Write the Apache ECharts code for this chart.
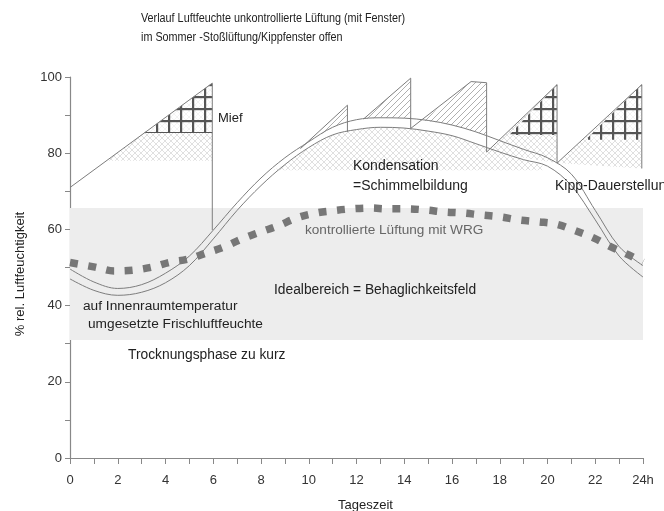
<!DOCTYPE html>
<html><head><meta charset="utf-8">
<script src="https://cdn.jsdelivr.net/npm/echarts@6/dist/echarts.min.js"></script>
<style>html,body{margin:0;padding:0;background:#fff}#c{width:664px;height:511px}</style>
</head><body><div id="c"></div>
<script>
// ---- data ----
const hours = [0,1,2,3,4,5,6,7,8,9,10,11,12,13,14,15,16,17,18,19,20,21,22,23,24];
const upperCurve = [49.6,46.2,44.5,45.5,48.5,53,59.8,67,73.5,78.8,83,86.8,88.8,89.3,89.2,88.6,87.4,85.6,83.3,81,78.8,74.5,65,55.5,50.5];
const lowerCurve = [47,44,42.7,43.5,46,50.5,57.5,65,71.5,77,81.5,84.8,86.2,86.8,86.6,85.8,84.6,82.5,80.3,78.3,76.6,71.5,62.5,53,47.5];
const wrgHours  = [0,1.05,1.85,2.64,3.44,4.2,4.95,5.7,6.42,7.2,7.97,8.7,9.5,10.3,11.0,11.8,12.6,13.3,14.1,14.9,15.65,16.45,17.2,18.0,18.8,19.6,20.35,21.1,21.95,22.66,23.4,24];
const wrgValues = [51.3,50.1,49.1,49.3,50.1,51.4,52.2,53.8,55.3,57.5,59.3,60.9,63,64.3,64.9,65.4,65.6,65.4,65.4,65.1,64.6,64.3,63.8,63.3,62.5,62,61.4,59.8,57.7,55.4,53.3,51.4];
// window-ventilation sawtooth (unkontrollierte Lüftung)
const sawSeg1 = [[0,71],[5.96,98.4],[5.96,59.8]];
const sawSeg2 = [[9.65,81.2],[11.62,92.6],[11.62,85.6]];
const sawSeg3 = [[12.3,89.0],[14.27,99.7],[14.27,86.5],[16.8,98.8],[17.45,98.5],[17.45,80.3],[20.4,98],[20.4,77.4],[23.95,98],[23.95,76]];
// hatched zones
const miefLight  = [[1.52,78],[5.96,98.4],[5.96,78]];
const miefGrid   = [[3.1,85.3],[5.96,98.4],[5.96,85.3]];
const hatch2     = [[9.65,81.2],[11.62,92.6],[11.62,88.6],[11,86.8],[10,83]];
const hatch3     = [[12.3,89.0],[14.27,99.7],[14.27,89.2],[13,89.3]];
const hatch4     = [[14.8,88.6],[16.8,98.8],[17.45,98.5],[17.45,84.8],[16.5,86.6],[15.5,88]];
const kipp1Light = [[17.45,80.3],[20.4,98],[20.4,77.4]];
const kipp1Grid  = [[18.4,84.8],[20.4,98],[20.4,84.8]];
const kipp2Light = [[20.4,77.4],[23.95,98],[23.95,76]];
const kipp2Grid  = [[21.6,83.5],[23.95,98],[23.95,83.5]];
const condensZone = [[8.5,75.5],[9,77],[10,81.5],[11,84.8],[12,86.2],[13,86.8],[14,86.6],[15,85.8],[16,84.6],[17,82.5],[18,80.3],[19,78.3],[19.8,76.8],[19.8,75.5]];
const idealBand = [[0,31],[24,31],[24,65.6],[0,65.6]];
const xTickLabelLast = '24h';

// ---- patterns ----
function pat(w, h, draw) {
  const c = document.createElement('canvas'); c.width = w; c.height = h;
  const g = c.getContext('2d'); draw(g, w, h);
  return { image: c, repeat: 'repeat' };
}
const diagPat = pat(6, 6, (g, w, h) => {
  g.strokeStyle = '#9a9a9a'; g.lineWidth = 0.8;
  g.beginPath(); g.moveTo(0, h); g.lineTo(w, 0); g.moveTo(-1, 1); g.lineTo(1, -1); g.moveTo(w-1, h+1); g.lineTo(w+1, h-1); g.stroke();
});
const crossPat = pat(6, 6, (g, w, h) => {
  g.strokeStyle = '#d2d2d2'; g.lineWidth = 0.7;
  g.beginPath(); g.moveTo(0, h); g.lineTo(w, 0); g.moveTo(0, 0); g.lineTo(w, h); g.stroke();
});
const gridPat = pat(12, 12, (g, w, h) => {
  g.fillStyle = 'rgba(255,255,255,0.6)'; g.fillRect(0, 0, w, h);
  g.fillStyle = '#555'; g.fillRect(0, 0, 2.2, h); g.fillRect(0, 0, w, 2.2);
});

function poly(points, fill, z, stroke) {
  return {
    type: 'custom', coordinateSystem: 'cartesian2d', silent: true, z: z, clip: false,
    data: [points[0]],
    renderItem: (params, api) => ({
      type: 'polygon',
      shape: { points: points.map(p => api.coord(p)) },
      style: { fill: fill, stroke: stroke || null, lineWidth: stroke ? 2 : 0 }
    })
  };
}
function line(data, smooth, z, style) {
  return { type: 'line', data: data, smooth: smooth, showSymbol: false, symbol: 'none', silent: true, z: z,
    lineStyle: Object.assign({ color: '#7d7d7d', width: 1 }, style || {}) };
}

const F = '"Liberation Sans",Arial,sans-serif';
function txt(x, y, text, size, color, extra) {
  return Object.assign({ type: 'text', x: x, y: y, z: 50,
    style: { text: text, font: (size || 12) + 'px ' + F, fill: color || '#222', verticalAlign: 'middle' } }, extra || {});
}

const chart = echarts.init(document.getElementById('c'), null, { renderer: 'canvas' });
chart.setOption({
  animation: false,
  backgroundColor: '#fff',
  grid: { left: 70, right: 21, top: 77, bottom: 53 },
  xAxis: {
    type: 'value', min: 0, max: 24, interval: 2,
    axisLine: { lineStyle: { color: '#888', width: 1.2 } },
    axisTick: { show: true, length: 6, lineStyle: { color: '#888' } },
    minorTick: { show: true, splitNumber: 2, length: 6, lineStyle: { color: '#888' } },
    splitLine: { show: false },
    axisLabel: { margin: 16, fontSize: 13, color: '#333', fontFamily: F,
      formatter: v => v === 24 ? xTickLabelLast : String(v) }
  },
  yAxis: {
    type: 'value', min: 0, max: 100, interval: 20,
    axisLine: { show: true, lineStyle: { color: '#888', width: 1.2 } },
    axisTick: { show: true, length: 5, lineStyle: { color: '#888' } },
    minorTick: { show: true, splitNumber: 2, length: 5, lineStyle: { color: '#888' } },
    splitLine: { show: false },
    axisLabel: { margin: 8, fontSize: 13, color: '#333', fontFamily: F }
  },
  series: [
    poly(idealBand, '#ededed', 1),
    poly(condensZone, crossPat, 2),
    poly(miefLight, crossPat, 2),
    poly(kipp1Light, crossPat, 2),
    poly(kipp2Light, crossPat, 2),
    poly(hatch2, diagPat, 2),
    poly(hatch3, diagPat, 2),
    poly(hatch4, diagPat, 2),
    poly(miefGrid, gridPat, 3),
    poly(kipp1Grid, gridPat, 3),
    poly(kipp2Grid, gridPat, 3),
    line(hours.map((h, i) => [h, upperCurve[i]]), 0.35, 4),
    line(hours.map((h, i) => [h, lowerCurve[i]]), 0.35, 4),
    line(sawSeg1, false, 4),
    line(sawSeg2, false, 4),
    line(sawSeg3, false, 4),
    line(wrgHours.map((h, i) => [h, wrgValues[i]]), 0.4, 5, { color: '#777', width: 7.5, type: [8, 10.5], cap: 'butt' })
  ],
  graphic: [
    txt(141, 19, 'Verlauf Luftfeuchte unkontrollierte Lüftung (mit Fenster)', 12, '#222', { scaleX: 0.9 }),
    txt(141, 38, 'im Sommer -Stoßlüftung/Kippfenster offen', 12, '#222', { scaleX: 0.9 }),
    txt(218, 118, 'Mief', 13),
    txt(353, 166, 'Kondensation', 14),
    txt(353, 186, '=Schimmelbildung', 14),
    txt(305, 230, 'kontrollierte Lüftung mit WRG', 13.6, '#666'),
    txt(274, 290, 'Idealbereich = Behaglichkeitsfeld', 13.8),
    txt(83, 306, 'auf Innenraumtemperatur', 13.7),
    txt(88, 324, 'umgesetzte Frischluftfeuchte', 13.7),
    txt(128, 355, 'Trocknungsphase zu kurz', 13.8),
    txt(555, 186, 'Kipp-Dauerstellung', 14),
    txt(338, 505, 'Tageszeit', 13),
    { type: 'text', x: 20, y: 274, rotation: Math.PI / 2, z: 50,
      style: { text: '% rel. Luftfeuchtigkeit', font: '13px ' + F, fill: '#222', align: 'center', verticalAlign: 'middle' } }
  ]
});
</script>
</body></html>
